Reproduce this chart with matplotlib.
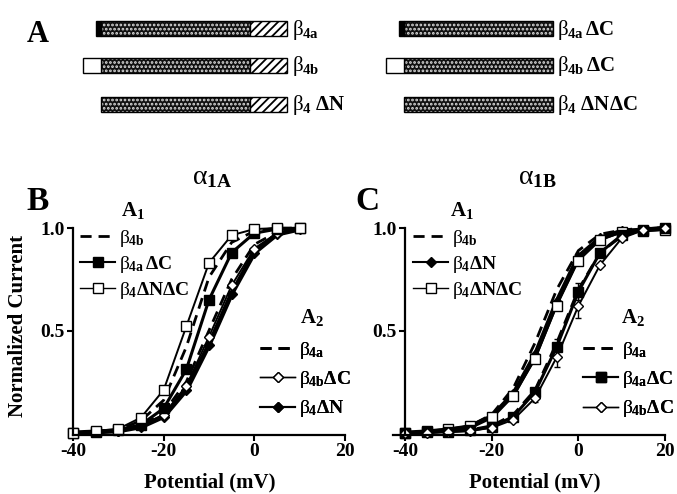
import numpy as np
import matplotlib
matplotlib.use('Agg')
import matplotlib.pyplot as plt
from matplotlib.lines import Line2D
from matplotlib.patches import Rectangle

# serif bold look of the printed figure
plt.rcParams['font.family'] = 'Liberation Serif'
plt.rcParams['font.weight'] = 'bold'
plt.rcParams['mathtext.fontset'] = 'custom'
plt.rcParams['mathtext.rm'] = 'Liberation Serif:weight=normal'
plt.rcParams['mathtext.it'] = 'Liberation Serif:weight=normal'
plt.rcParams['mathtext.bf'] = 'Liberation Serif:weight=bold'
plt.rcParams['hatch.linewidth'] = 1.3

W, H = 677, 494

# ---- panel A: construct schematics (lengths in arbitrary units) ----
constructs_left = [r'$\beta_{\mathbf{4a}}$', r'$\beta_{\mathbf{4b}}$', r'$\beta_{\mathbf{4}}\ \mathbf{\Delta N}$']
constructs_right = [r'$\beta_{\mathbf{4a}}\,\mathbf{\Delta C}$', r'$\beta_{\mathbf{4b}}\,\mathbf{\Delta C}$',
                    r'$\beta_{\mathbf{4}}\ \mathbf{\Delta N\Delta C}$']
nterm_len = [5, 18, 0]
nterm_kind = ['black', 'white', None]
core_len = 149
cterm_left = [37, 37, 37]
cterm_right = [0, 0, 0]

# ---- panel B: alpha1A activation curves ----
v_b = [-40, -35, -30, -25, -20, -15, -10, -5, 0, 5, 10]
b_b4b = [0.0, 0.005, 0.015, 0.06, 0.16, 0.42, 0.76, 0.93, 0.985, 1.0, 1.0]
b_b4adc = [0.0, 0.005, 0.015, 0.04, 0.12, 0.31, 0.65, 0.88, 0.975, 0.995, 1.0]
b_b4dndc = [0.0, 0.01, 0.02, 0.075, 0.21, 0.52, 0.83, 0.965, 0.995, 1.0, 1.0]
b_b4a = [0.0, 0.005, 0.012, 0.035, 0.10, 0.25, 0.50, 0.75, 0.92, 0.98, 1.0]
b_b4bdc = [0.0, 0.005, 0.01, 0.035, 0.09, 0.23, 0.47, 0.72, 0.90, 0.975, 1.0]
b_b4dn = [0.0, 0.005, 0.01, 0.03, 0.08, 0.21, 0.43, 0.68, 0.88, 0.97, 0.995]

# ---- panel C: alpha1B activation curves ----
v_c = [-40, -35, -30, -25, -20, -15, -10, -5, 0, 5, 10, 15, 20]
c_b4b = [0.0, 0.005, 0.012, 0.035, 0.09, 0.22, 0.44, 0.70, 0.89, 0.97, 0.99, 1.0, 1.0]
c_b4dn = [0.0, 0.005, 0.015, 0.03, 0.08, 0.19, 0.38, 0.64, 0.86, 0.95, 0.985, 0.99, 1.0]
c_b4dndc = [0.0, 0.01, 0.02, 0.035, 0.08, 0.18, 0.36, 0.62, 0.84, 0.94, 0.98, 0.985, 0.99]
c_b4a = [0.0, 0.003, 0.008, 0.015, 0.035, 0.09, 0.21, 0.44, 0.70, 0.88, 0.96, 0.99, 1.0]
c_b4adc = [0.0, 0.003, 0.006, 0.012, 0.03, 0.08, 0.20, 0.42, 0.69, 0.88, 0.965, 0.99, 1.0]
c_b4bdc = [0.0, 0.002, 0.005, 0.01, 0.025, 0.065, 0.17, 0.37, 0.62, 0.82, 0.95, 0.99, 1.0]
c_err_b4adc = [0, 0, 0, 0, 0, 0, 0.02, 0.04, 0.04, 0, 0, 0, 0]
c_err_b4bdc = [0, 0, 0, 0, 0, 0, 0.02, 0.05, 0.06, 0, 0, 0, 0]


def fx(px):
    return px / W


def fy(py):
    return 1 - py / H


fig = plt.figure(figsize=(W / 100, H / 100), dpi=100)

# overlay axes in pixel units for panel A and labels
axA = fig.add_axes([0, 0, 1, 1])
axA.set_xlim(0, W)
axA.set_ylim(H, 0)
axA.axis('off')

rows_y = [29, 65.5, 104]
bar_h = 15


def draw_construct(x_core, y, nlen, nkind, clen):
    # core domain: dark stipple
    axA.add_patch(Rectangle((x_core, y - bar_h / 2), core_len, bar_h, facecolor='#111111',
                            edgecolor='#dddddd', hatch='....', lw=0))
    axA.add_patch(Rectangle((x_core, y - bar_h / 2), core_len, bar_h, fill=False, edgecolor='black', lw=1))
    if nlen > 0:
        axA.add_patch(Rectangle((x_core - nlen, y - bar_h / 2), nlen, bar_h, facecolor=nkind,
                                edgecolor='black', lw=1))
    if clen > 0:
        axA.add_patch(Rectangle((x_core + core_len, y - bar_h / 2), clen, bar_h, facecolor='white',
                                edgecolor='black', hatch='////', lw=1))


for i in range(3):
    draw_construct(101, rows_y[i], nterm_len[i], nterm_kind[i], cterm_left[i])
    axA.text(292, rows_y[i] + 1, constructs_left[i], fontsize=15, va='center', ha='left')
    draw_construct(404, rows_y[i], nterm_len[i], nterm_kind[i], cterm_right[i])
    axA.text(557, rows_y[i] + 1, constructs_right[i], fontsize=15, va='center', ha='left')

fig.text(fx(38), fy(35), 'A', fontsize=22, ha='center', va='center', weight='bold')
fig.text(fx(38), fy(202), 'B', fontsize=24, ha='center', va='center', weight='bold')
fig.text(fx(367), fy(202), 'C', fontsize=24, ha='center', va='center', weight='bold')
fig.text(fx(212), fy(178), r'$\alpha_{\mathbf{1A}}$', fontsize=20, ha='center', va='center')
fig.text(fx(537), fy(178), r'$\alpha_{\mathbf{1B}}$', fontsize=20, ha='center', va='center')

# data axes
axB = fig.add_axes([fx(73), fy(435), fx(345) - fx(73), fy(226) - fy(435)])
axC = fig.add_axes([fx(393), fy(435), fx(665) - fx(393), fy(226) - fy(435)])


def style_axis(ax, xmin):
    ax.set_xlim(xmin, 20)
    ax.set_ylim(-0.01, 1.01)
    ax.spines['top'].set_visible(False)
    ax.spines['right'].set_visible(False)
    ax.spines['left'].set_position(('data', -40))
    ax.spines['left'].set_bounds(-0.01, 1.0)
    for s in ['left', 'bottom']:
        ax.spines[s].set_linewidth(1.6)
    ax.set_xticks([-40, -20, 0, 20])
    ax.set_xticklabels(['-40', '-20', '0', '20'])
    ax.set_yticks([0.5, 1.0])
    ax.set_yticklabels(['0.5', '1.0'])
    ax.tick_params(direction='out', length=4, width=1.5, labelsize=14, pad=2)
    for lab in ax.get_xticklabels() + ax.get_yticklabels():
        lab.set_fontweight('bold')
    ax.patch.set_visible(False)


style_axis(axB, -40)
style_axis(axC, -42.8)

ms = 7
kw_open_sq = dict(marker='s', mfc='white', mec='black', ms=ms, mew=1, color='black', lw=1.4)
kw_fill_sq = dict(marker='s', mfc='black', mec='black', ms=ms, color='black', lw=2.2)
kw_open_di = dict(marker='D', mfc='white', mec='black', ms=5.5, mew=1, color='black', lw=1.4)
kw_fill_di = dict(marker='D', mfc='black', mec='black', ms=5.5, color='black', lw=3.5)
kw_dash = dict(color='black', lw=2, ls=(0, (4, 2.5)))

# panel B
axB.plot(v_b, b_b4b, clip_on=False, **kw_dash)
axB.plot(v_b, b_b4a, clip_on=False, **kw_dash)
axB.plot(v_b, b_b4dn, clip_on=False, **kw_fill_di)
axB.plot(v_b, b_b4bdc, clip_on=False, **kw_open_di)
axB.plot(v_b, b_b4adc, clip_on=False, **kw_fill_sq)
axB.plot(v_b, b_b4dndc, clip_on=False, **kw_open_sq)

# panel C
axC.plot(v_c, c_b4b, clip_on=False, **kw_dash)
axC.plot(v_c, c_b4a, clip_on=False, **kw_dash)
axC.errorbar(v_c, c_b4adc, yerr=c_err_b4adc, capsize=2, elinewidth=1, clip_on=False, **kw_fill_sq)
axC.errorbar(v_c, c_b4bdc, yerr=c_err_b4bdc, capsize=2, elinewidth=1, clip_on=False, **kw_open_di)
axC.plot(v_c, c_b4dn, clip_on=False, **kw_fill_di)
axC.plot(v_c, c_b4dndc, clip_on=False, **kw_open_sq)

# legends
h_dash = Line2D([], [], **kw_dash)
h_osq = Line2D([], [], **dict(kw_open_sq, lw=1))
h_fsq = Line2D([], [], **dict(kw_fill_sq, lw=1.5))
h_odi = Line2D([], [], **dict(kw_open_di, lw=1))
h_fdi = Line2D([], [], **dict(kw_fill_di, lw=1.5))

lab_b4b = r'$\beta_{\mathbf{4b}}$'
lab_b4a = r'$\beta_{\mathbf{4a}}$'
lab_b4adc = r'$\beta_{\mathbf{4a}}\,\mathbf{\Delta C}$'
lab_b4adc2 = r'$\beta_{\mathbf{4a}}\mathbf{\Delta C}$'
lab_b4bdc = r'$\beta_{\mathbf{4b}}\mathbf{\Delta C}$'
lab_b4dn = r'$\beta_{\mathbf{4}}\mathbf{\Delta N}$'
lab_b4dndc = r'$\beta_{\mathbf{4}}\mathbf{\Delta N\Delta C}$'


def add_legend(ax, handles, labels, px, py, spacing):
    leg = ax.legend(handles, labels, loc='upper left', bbox_to_anchor=(fx(px), fy(py)),
                    bbox_transform=fig.transFigure, frameon=False, fontsize=14,
                    handlelength=1.8, handletextpad=0.2, labelspacing=spacing,
                    borderpad=0, borderaxespad=0, numpoints=1)
    ax.add_artist(leg)
    return leg


add_legend(axB, [h_dash, h_fsq, h_osq], [lab_b4b, lab_b4adc, lab_b4dndc], 80, 228, 0.25)
add_legend(axB, [h_dash, h_odi, h_fdi], [lab_b4a, lab_b4bdc, lab_b4dn], 260, 340, 0.42)
add_legend(axC, [h_dash, h_fdi, h_osq], [lab_b4b, lab_b4dn, lab_b4dndc], 413, 228, 0.25)
add_legend(axC, [h_dash, h_fsq, h_odi], [lab_b4a, lab_b4adc2, lab_b4bdc], 583, 340, 0.42)

for (px, py, t) in [(133, 210, r'$\mathbf{A}_{\mathbf{1}}$'), (312, 318, r'$\mathbf{A}_{\mathbf{2}}$'),
                    (462, 210, r'$\mathbf{A}_{\mathbf{1}}$'), (633, 318, r'$\mathbf{A}_{\mathbf{2}}$')]:
    fig.text(fx(px), fy(py), t, fontsize=15, ha='center', va='center')

# axis labels
fig.text(fx(18), fy(326), 'Normalized Current', rotation=90, fontsize=15, ha='center', va='center',
         weight='bold')
fig.text(fx(210), fy(482), 'Potential (mV)', fontsize=15, ha='center', va='center', weight='bold')
fig.text(fx(535), fy(482), 'Potential (mV)', fontsize=15, ha='center', va='center', weight='bold')

fig.savefig('out.png', dpi=100)
